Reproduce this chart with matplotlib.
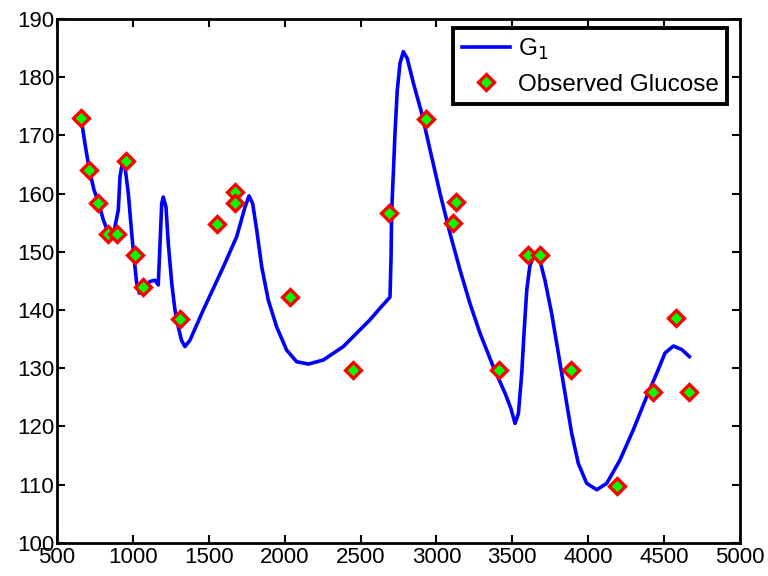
import matplotlib
matplotlib.use("Agg")
import matplotlib.pyplot as plt

plt.rcParams['font.family'] = ['Liberation Sans', 'DejaVu Sans']

# Observed glucose
obs_t = [658, 711, 770, 836, 895, 955, 1014, 1067, 1310, 1554, 1673, 1673, 2035,
         2450, 2687, 2931, 3108, 3128, 3412, 3603, 3682, 3886, 4189, 4426, 4578, 4664]
obs_g = [173, 164, 158.4, 153, 153, 165.6, 149.4, 144, 138.5, 154.8, 160.3, 158.4, 142.2,
         129.7, 156.7, 172.8, 154.9, 158.6, 129.7, 149.4, 149.4, 129.7, 109.8, 125.9, 138.6, 125.9]

# Model curve G1
g1_t = [660, 684, 713, 744, 772, 805, 838, 871, 904, 915, 930, 948, 970, 992, 1009, 1025,
        1042, 1069, 1113, 1146, 1167, 1179, 1190, 1200, 1218, 1233, 1256, 1277, 1299, 1320,
        1343, 1376, 1464, 1596, 1684, 1739, 1765, 1789, 1816, 1849, 1892, 1947, 2013, 2079,
        2156, 2255, 2386, 2562, 2628, 2694, 2701, 2705, 2716, 2727, 2742, 2760, 2782, 2808,
        2848, 2903, 2958, 3024, 3089, 3155, 3221, 3287, 3375, 3452, 3490, 3518, 3540, 3562,
        3577, 3595, 3616, 3645, 3678, 3715, 3759, 3803, 3847, 3891, 3935, 3990, 4056, 4122,
        4209, 4297, 4385, 4451, 4506, 4561, 4616, 4666]
g1_g = [172.8, 168.6, 164.1, 160.6, 158.6, 155.5, 153.2, 152.9, 157.2, 162.9, 165.2, 164.6,
        160.0, 153.2, 148.6, 144.6, 142.9, 143.7, 144.9, 145.1, 144.3, 151.5, 158.3, 159.4,
        157.7, 151.5, 144.6, 140.0, 137.1, 134.8, 133.7, 134.8, 140.0, 147.4, 152.6, 157.7,
        159.6, 158.3, 153.7, 147.4, 141.7, 137.1, 133.1, 131.1, 130.7, 131.4, 133.7, 138.3,
        140.3, 142.2, 149.2, 156.9, 163.5, 170.4, 177.8, 182.4, 184.4, 183.2, 179.0, 173.8,
        167.5, 160.0, 153.2, 146.9, 141.1, 136.0, 130.2, 125.7, 123.1, 120.5, 122.2, 129.1,
        136.0, 143.4, 147.7, 149.3, 148.9, 145.1, 139.4, 132.6, 125.7, 118.8, 113.6, 110.2,
        109.1, 110.2, 114.2, 119.4, 125.1, 129.1, 132.6, 133.8, 133.2, 132.0]

xticks = [500, 1000, 1500, 2000, 2500, 3000, 3500, 4000, 4500, 5000]
yticks = [100, 110, 120, 130, 140, 150, 160, 170, 180, 190]

fig = plt.figure(figsize=(7.68, 5.76), dpi=100)
ax = fig.add_axes([57 / 768, (576 - 542.7) / 576, 683 / 768, 523.7 / 576])

ax.plot(g1_t, g1_g, color='#0000ff', lw=2.6, label='G$_1$', solid_joinstyle='round')
ax.plot(obs_t, obs_g, linestyle='none', marker='D', markersize=8, markerfacecolor='#00ff00',
        markeredgecolor='#ff0000', markeredgewidth=2.4, label='Observed Glucose')

ax.set_xlim(500, 5000)
ax.set_ylim(100, 190)
ax.set_xticks(xticks)
ax.set_yticks(yticks)
ax.tick_params(direction='in', length=6, width=1.5, labelsize=16, top=True, right=True, pad=2)
ax.tick_params(axis='x', pad=3)
for s in ax.spines.values():
    s.set_linewidth(2)

leg = ax.legend(loc='upper right', fontsize=17.5, fancybox=False, framealpha=1,
                edgecolor='black', borderpad=0.35, handlelength=2.0, handletextpad=0.3,
                labelspacing=0.5, borderaxespad=0,
                bbox_to_anchor=(0.981, 0.983))
leg.get_frame().set_linewidth(2.8)

fig.savefig('out.png', dpi=100)
